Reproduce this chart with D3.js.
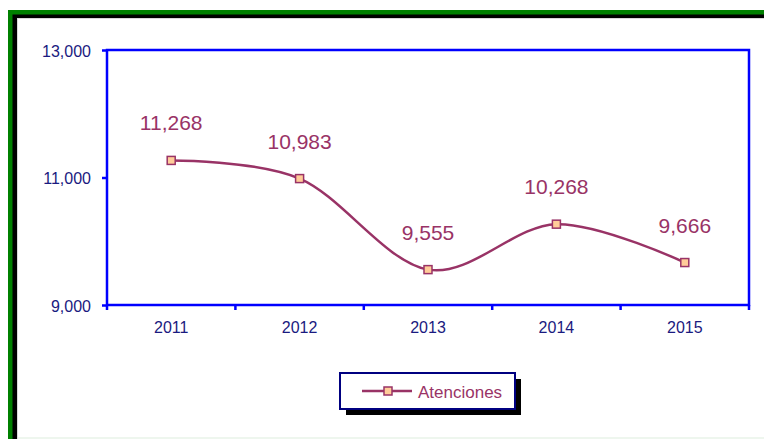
<!DOCTYPE html>
<meta charset="utf-8">
<html>
<head>
<script src="https://d3js.org/d3.v7.min.js"></script>
<style>
  body { margin: 0; background: #fff; }
  svg { display: block; font-family: "Liberation Sans", Arial, sans-serif; }
</style>
</head>
<body>
<div id="my_dataviz"></div>
<script>
// data
const years = ["2011", "2012", "2013", "2014", "2015"];
const atenciones = [11268, 10983, 9555, 10268, 9666];
const yTicks = [9000, 11000, 13000];
const seriesName = "Atenciones";

const W = 764, H = 439;
// plot area
const margin = {top: 50, right: 15, bottom: 134, left: 107};
const width = W - margin.left - margin.right,
      height = H - margin.top - margin.bottom;

const svg = d3.select("#my_dataviz")
  .append("svg")
  .attr("width", W)
  .attr("height", H);

// outer frame: green then black, running off right/bottom
svg.append("rect").attr("x", 8).attr("y", 10).attr("width", W).attr("height", H)
  .style("fill", "#008000");
svg.append("rect").attr("x", 12.5).attr("y", 14.5).attr("width", W).attr("height", H)
  .style("fill", "#000");
svg.append("rect").attr("x", 17).attr("y", 18).attr("width", W).attr("height", H)
  .style("fill", "#d9d9d9");
svg.append("rect").attr("x", 18).attr("y", 19).attr("width", W).attr("height", 418)
  .style("fill", "#fff");
svg.append("rect").attr("x", 18).attr("y", 437).attr("width", W).attr("height", 2)
  .style("fill", "#eef6ee");

const g = svg.append("g")
  .attr("transform", `translate(${margin.left}, ${margin.top})`);

const x = d3.scaleBand().domain(years).range([0, width]);
const y = d3.scaleLinear().domain([9000, 13000]).range([height, 0]);

const blue = "#0000ff", navy = "#1a1a80", plum = "#993366";

// plot border
g.append("rect")
  .attr("width", width).attr("height", height)
  .style("fill", "none").style("stroke", blue).style("stroke-width", 2.5);

// Y axis
const yAxis = g.append("g")
  .call(d3.axisLeft(y).tickValues(yTicks).tickSize(5).tickPadding(11)
    .tickFormat(d3.format(",")));
yAxis.select(".domain").remove();
yAxis.selectAll("line").style("stroke", blue).style("stroke-width", 2.5);
yAxis.selectAll("text").style("fill", navy).style("font-size", "16px")
  .attr("dy", "0.4em");

// X axis: ticks at band edges
const xAxis = g.append("g").attr("transform", `translate(0, ${height})`);
xAxis.selectAll("line.tk")
  .data(d3.range(years.length + 1))
  .enter().append("line")
  .attr("x1", i => i * x.step()).attr("x2", i => i * x.step())
  .attr("y1", 0).attr("y2", 5)
  .style("stroke", blue).style("stroke-width", 2.5);
xAxis.selectAll("text")
  .data(years)
  .enter().append("text")
  .attr("x", d => x(d) + x.bandwidth() / 2)
  .attr("y", 28)
  .style("text-anchor", "middle")
  .style("fill", navy).style("font-size", "16px")
  .text(d => d);

// smoothed line
const line = d3.line()
  .x((d, i) => x(years[i]) + x.bandwidth() / 2)
  .y(d => y(d))
  .curve(d3.curveCardinal.tension(0));

g.append("path")
  .datum(atenciones)
  .attr("d", line)
  .style("fill", "none").style("stroke", plum).style("stroke-width", 2.5);

// markers
g.selectAll("rect.mk")
  .data(atenciones)
  .enter().append("rect")
  .attr("x", (d, i) => x(years[i]) + x.bandwidth() / 2 - 4)
  .attr("y", d => y(d) - 4)
  .attr("width", 8).attr("height", 8)
  .style("fill", "#ffcc99").style("stroke", plum).style("stroke-width", 1.5);

// data labels
g.selectAll("text.lbl")
  .data(atenciones)
  .enter().append("text")
  .attr("x", (d, i) => x(years[i]) + x.bandwidth() / 2)
  .attr("y", d => y(d) - 30)
  .style("text-anchor", "middle")
  .style("fill", plum).style("font-size", "21px")
  .text(d => d3.format(",")(d));

// legend
const lg = svg.append("g").attr("transform", "translate(340, 373)");
lg.append("rect").attr("x", 6).attr("y", 6).attr("width", 175).attr("height", 36)
  .style("fill", "#000");
lg.append("rect").attr("width", 175).attr("height", 36)
  .style("fill", "#fff").style("stroke", "#000080").style("stroke-width", 2);
lg.append("line").attr("x1", 22).attr("x2", 72).attr("y1", 18).attr("y2", 18)
  .style("stroke", plum).style("stroke-width", 2.5);
lg.append("rect").attr("x", 44).attr("y", 14).attr("width", 8).attr("height", 8)
  .style("fill", "#ffcc99").style("stroke", plum).style("stroke-width", 1.5);
lg.append("text").attr("x", 78).attr("y", 24.5)
  .style("fill", plum).style("font-size", "17px")
  .text(seriesName);
</script>
</body>
</html>
